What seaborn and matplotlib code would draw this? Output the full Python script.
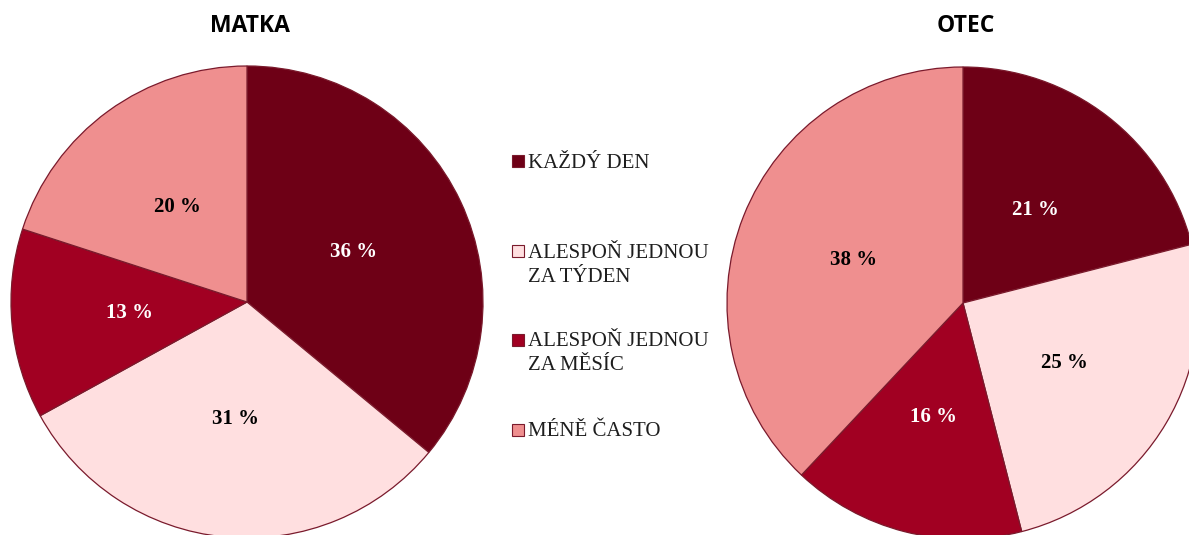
import matplotlib
matplotlib.use("Agg")
import matplotlib.pyplot as plt
import seaborn as sns
from matplotlib.patches import Rectangle

categories = ["KAŽDÝ DEN", "ALESPOŇ JEDNOU\nZA TÝDEN", "ALESPOŇ JEDNOU\nZA MĚSÍC", "MÉNĚ ČASTO"]
matka = [36, 31, 13, 20]
otec = [21, 25, 16, 38]
titles = ["MATKA", "OTEC"]
colors = ["#6E0016", "#FFDFE0", "#A10022", "#EF8F8F"]
label_colors = ["white", "black", "white", "black"]

sns.set_style("white")
plt.rcParams["font.family"] = ["Liberation Serif", "DejaVu Serif"]

W, H = 1189, 535
fig = plt.figure(figsize=(W / 100, H / 100), dpi=100)
ax = fig.add_axes([0, 0, 1, 1])

centers = [(247, H - 302), (963, H - 303)]
R = 236

for vals, (cx, cy), title in zip([matka, otec], centers, titles):
    wedges, _, autotexts = ax.pie(
        vals, colors=colors, startangle=90, counterclock=False,
        center=(cx, cy), radius=R, autopct=lambda p: f"{p:.0f} %",
        pctdistance=0.5, frame=True,
        wedgeprops=dict(edgecolor="#7A1A2C", linewidth=0.9),
        textprops=dict(fontsize=15, fontweight="bold", family=["Liberation Serif"]),
    )
    for t, c in zip(autotexts, label_colors):
        t.set_color(c)
    ax.text(cx + 3, H - 26, title, ha="center", va="center", fontsize=16.5,
            fontweight="bold", family=["Open Sans"], color="black")

ax.set_xlim(0, W)
ax.set_ylim(0, H)
ax.set_aspect("equal")
ax.axis("off")

# legend
legend_y = [161, 251, 340, 430]
line_gap = 24
for cat, col, y in zip(categories, colors, legend_y):
    ax.add_patch(Rectangle((512, H - y - 6), 12, 12, facecolor=col,
                           edgecolor="#7A1A2C", linewidth=0.8))
    for i, line in enumerate(cat.split("\n")):
        ax.text(528, H - y - 2 - i * line_gap, line, ha="left", va="center",
                fontsize=15, color="#1E1E1E")

fig.savefig("out.png", dpi=100)
